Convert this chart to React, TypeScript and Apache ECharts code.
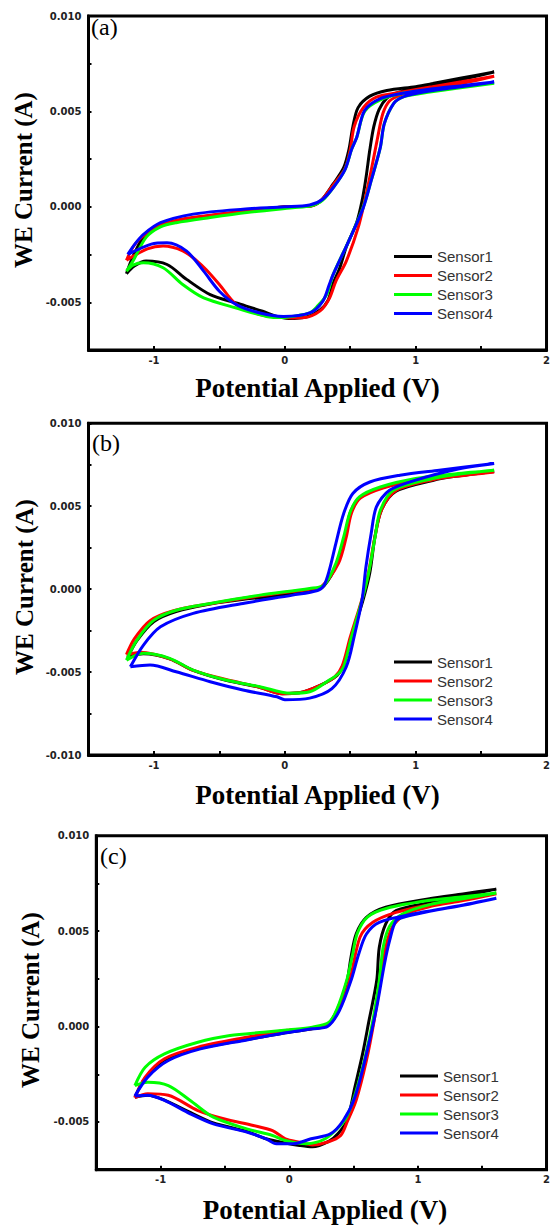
import React, { useEffect, useRef } from 'react';
import * as echarts from 'echarts';

// ---------- DATA (potential V, current mA; loops: forward scan then reverse scan) ----------
const SENSORS = ['Sensor1', 'Sensor2', 'Sensor3', 'Sensor4'];
const COLORS = ['#000000', '#ff0000', '#00ff00', '#0000ff'];
const PANEL_LABELS = ['(a)', '(b)', '(c)'];
const X_TITLE = 'Potential Applied (V)';
const Y_TITLE = 'WE Current (A)';
const X_TICK_LABELS = [-1, 0, 1, 2];
const Y_TICK_LABELS = [-0.01, -0.005, 0, 0.005, 0.01];

// Panel (a)
const A_S1 = [
  [-1.21, -3.5], [-1.16, -2.6], [-1.08, -1.6], [-0.95, -1.0], [-0.8, -0.7], [-0.5, -0.4], [-0.25, -0.18], [0, 0],
  [0.2, 0.05], [0.28, 0.35], [0.37, 1.2], [0.45, 2.05], [0.49, 3.0], [0.52, 4.2], [0.56, 5.2], [0.65, 5.8],
  [0.78, 6.1], [1.0, 6.3], [1.13, 6.46], [1.35, 6.75], [1.6, 7.07],
  [1.3, 6.6], [1.0, 6.2], [0.85, 5.95], [0.78, 5.7], [0.72, 5.1], [0.68, 4.2], [0.65, 3.0], [0.62, 1.5],
  [0.59, 0.3], [0.55, -0.8], [0.47, -2.1], [0.42, -3.2], [0.37, -4.0], [0.33, -4.9], [0.27, -5.4], [0.17, -5.76],
  [0.03, -5.85], [-0.08, -5.7], [-0.17, -5.47], [-0.37, -5.04], [-0.57, -4.6], [-0.75, -3.8], [-0.9, -3.02],
  [-1.06, -2.84], [-1.15, -3.1], [-1.21, -3.5],
];
const A_S2 = [
  [-1.21, -2.8], [-1.15, -2.0], [-1.06, -1.4], [-0.95, -0.95], [-0.75, -0.6], [-0.5, -0.38], [-0.25, -0.18], [0, 0],
  [0.2, 0.05], [0.28, 0.35], [0.37, 1.15], [0.46, 2.0], [0.5, 3.0], [0.53, 4.2], [0.6, 5.2], [0.7, 5.75],
  [0.88, 6.0], [1.13, 6.3], [1.35, 6.55], [1.6, 6.84],
  [1.3, 6.4], [1.0, 6.1], [0.88, 5.85], [0.8, 5.55], [0.75, 4.9], [0.71, 3.65], [0.66, 1.9], [0.61, 0.3],
  [0.56, -1.1], [0.47, -2.84], [0.39, -3.9], [0.34, -4.8], [0.27, -5.45], [0.15, -5.8], [0.06, -5.82],
  [-0.1, -5.75], [-0.19, -5.65], [-0.37, -5.12], [-0.5, -4.07], [-0.6, -3.3], [-0.67, -2.84], [-0.78, -2.3],
  [-0.93, -2.05], [-1.05, -2.2], [-1.21, -2.8],
];
const A_S3 = [
  [-1.21, -3.37], [-1.16, -2.84], [-1.06, -1.6], [-0.95, -1.05], [-0.83, -0.83], [-0.57, -0.56], [-0.29, -0.3],
  [0.06, -0.05], [0.2, 0.05], [0.29, 0.35], [0.38, 1.1], [0.46, 1.95], [0.51, 3.0], [0.55, 3.65], [0.61, 5.0],
  [0.73, 5.6], [0.9, 5.95], [1.13, 6.15], [1.35, 6.3], [1.6, 6.47],
  [1.3, 6.2], [1.05, 5.95], [0.9, 5.75], [0.83, 5.4], [0.76, 4.35], [0.73, 3.12], [0.66, 1.37], [0.6, 0.0],
  [0.5, -1.62], [0.37, -3.54], [0.32, -4.6], [0.25, -5.2], [0.19, -5.56], [0.05, -5.75], [-0.01, -5.8],
  [-0.14, -5.74], [-0.37, -5.3], [-0.62, -4.77], [-0.78, -4.07], [-0.93, -3.19], [-1.08, -2.93], [-1.16, -3.05],
  [-1.21, -3.37],
];
const A_S4 = [
  [-1.2, -2.49], [-1.14, -1.9], [-1.08, -1.44], [-0.95, -0.83], [-0.7, -0.38], [-0.32, -0.12], [0, 0], [0.19, 0.1],
  [0.29, 0.4], [0.38, 1.1], [0.46, 1.95], [0.51, 3.0], [0.55, 3.65], [0.61, 5.05], [0.73, 5.67], [0.9, 5.95],
  [1.13, 6.19], [1.35, 6.35], [1.6, 6.54],
  [1.3, 6.25], [1.05, 6.0], [0.9, 5.75], [0.83, 5.4], [0.76, 4.35], [0.73, 3.12], [0.66, 1.37], [0.6, -0.04],
  [0.5, -1.62], [0.37, -3.54], [0.34, -4.07], [0.29, -4.95], [0.19, -5.56], [-0.01, -5.74], [-0.19, -5.56],
  [-0.37, -5.12], [-0.5, -4.42], [-0.62, -3.37], [-0.75, -2.32], [-0.9, -1.88], [-1.02, -1.95], [-1.2, -2.49],
];

// Panel (b)
const B_S1 = [
  [-1.2, -4.1], [-1.13, -3.1], [-1.0, -1.95], [-0.83, -1.35], [-0.57, -0.9], [-0.3, -0.6], [-0.1, -0.45],
  [0.1, -0.2], [0.22, -0.08], [0.3, 0.2], [0.4, 1.55], [0.46, 3.15], [0.5, 4.6], [0.57, 5.5], [0.73, 6.1],
  [1.0, 6.55], [1.3, 6.85], [1.6, 7.1],
  [1.3, 6.8], [1.13, 6.55], [0.85, 5.9], [0.74, 4.8], [0.69, 3.2], [0.65, 1.0], [0.6, -0.6], [0.51, -2.9],
  [0.45, -4.5], [0.4, -5.2], [0.27, -5.8], [0.11, -6.25], [-0.02, -6.3], [-0.2, -5.9], [-0.45, -5.5],
  [-0.7, -4.9], [-0.88, -4.2], [-1.08, -3.9], [-1.2, -4.1],
];
const B_S2 = [
  [-1.21, -3.95], [-1.15, -3.0], [-1.03, -1.9], [-0.85, -1.3], [-0.57, -0.88], [-0.19, -0.4], [0.19, 0.0],
  [0.28, 0.15], [0.41, 1.55], [0.47, 3.15], [0.51, 4.6], [0.58, 5.5], [0.75, 6.1], [1.0, 6.55], [1.3, 6.85],
  [1.6, 7.07],
  [1.3, 6.8], [1.13, 6.6], [0.85, 5.95], [0.74, 4.8], [0.69, 3.2], [0.64, 1.0], [0.59, -0.6], [0.5, -2.9],
  [0.44, -4.6], [0.38, -5.3], [0.27, -5.8], [0.11, -6.25], [-0.02, -6.3], [-0.2, -5.9], [-0.45, -5.45],
  [-0.7, -4.9], [-0.88, -4.2], [-1.1, -3.8], [-1.21, -3.95],
];
const B_S3 = [
  [-1.21, -4.28], [-1.13, -3.07], [-1.0, -1.87], [-0.83, -1.27], [-0.57, -0.86], [-0.19, -0.36], [0.19, 0.04],
  [0.3, 0.25], [0.39, 1.55], [0.45, 3.15], [0.5, 4.66], [0.57, 5.56], [0.73, 6.16], [1.0, 6.67], [1.3, 6.95],
  [1.6, 7.17],
  [1.3, 6.9], [1.13, 6.67], [0.83, 5.96], [0.73, 4.76], [0.69, 3.15], [0.64, 0.95], [0.59, -0.66], [0.51, -2.87],
  [0.45, -4.68], [0.41, -5.1], [0.34, -5.48], [0.19, -6.19], [0.04, -6.28], [-0.19, -5.88], [-0.45, -5.48],
  [-0.7, -4.88], [-0.88, -4.17], [-1.08, -3.87], [-1.21, -4.28],
];
const B_S4 = [
  [-1.18, -4.68], [-1.08, -3.37], [-0.95, -2.27], [-0.7, -1.46], [-0.32, -0.86], [0.06, -0.36], [0.25, -0.08],
  [0.3, 0.24], [0.34, 1.14], [0.39, 2.75], [0.45, 4.56], [0.52, 5.77], [0.65, 6.46], [0.88, 6.87], [1.18, 7.17],
  [1.6, 7.57],
  [1.3, 7.2], [1.0, 6.57], [0.8, 5.96], [0.7, 4.96], [0.66, 3.35], [0.62, 1.34], [0.59, -0.66], [0.53, -2.87],
  [0.47, -4.68], [0.36, -6.0], [0.19, -6.57], [0.0, -6.67], [-0.06, -6.49], [-0.32, -6.08], [-0.57, -5.58],
  [-0.83, -4.98], [-1.03, -4.58], [-1.18, -4.68],
];

// Panel (c)
const C_S1 = [
  [-1.2, -3.7], [-1.12, -2.7], [-0.97, -1.75], [-0.71, -1.15], [-0.33, -0.68], [-0.05, -0.35], [0.18, -0.12],
  [0.29, 0.05], [0.37, 0.84], [0.45, 2.41], [0.48, 3.63], [0.52, 4.85], [0.6, 5.72], [0.75, 6.25], [1.08, 6.69],
  [1.35, 6.95], [1.61, 7.2],
  [1.35, 6.85], [1.1, 6.5], [0.83, 6.07], [0.75, 5.38], [0.7, 4.15], [0.68, 2.41], [0.62, 0.31], [0.57, -1.43],
  [0.51, -3.18], [0.45, -4.92], [0.38, -5.6], [0.31, -6.0], [0.18, -6.3], [0.08, -6.23], [-0.03, -6.1],
  [-0.18, -5.88], [-0.33, -5.5], [-0.59, -5.05], [-0.77, -4.5], [-0.97, -3.85], [-1.1, -3.6], [-1.2, -3.7],
];
const C_S2 = [
  [-1.2, -3.73], [-1.12, -2.65], [-0.97, -1.69], [-0.71, -1.08], [-0.33, -0.56], [-0.03, -0.21], [0.18, -0.1],
  [0.3, 0.05], [0.38, 0.8], [0.47, 2.41], [0.55, 4.68], [0.65, 5.46], [0.83, 5.98], [1.1, 6.4], [1.35, 6.65],
  [1.61, 6.96],
  [1.35, 6.6], [1.1, 6.3], [0.91, 5.9], [0.8, 5.2], [0.75, 4.15], [0.71, 2.41], [0.66, 0.31], [0.6, -1.78],
  [0.52, -3.87], [0.45, -5.0], [0.4, -5.7], [0.3, -6.05], [0.18, -6.2], [0.08, -6.06], [-0.03, -5.88],
  [-0.13, -5.45], [-0.28, -5.18], [-0.51, -4.83], [-0.71, -4.4], [-0.94, -3.6], [-1.1, -3.52], [-1.2, -3.73],
];
const C_S3 = [
  [-1.2, -3.09], [-1.12, -2.13], [-0.97, -1.43], [-0.71, -0.82], [-0.46, -0.47], [-0.2, -0.3], [0, -0.17],
  [0.18, -0.03], [0.31, 0.23], [0.37, 0.9], [0.45, 2.5], [0.49, 3.7], [0.53, 4.9], [0.61, 5.75], [0.76, 6.2],
  [1.08, 6.6], [1.35, 6.8], [1.61, 7.0],
  [1.35, 6.7], [1.1, 6.4], [0.88, 5.9], [0.78, 5.25], [0.73, 4.15], [0.7, 2.41], [0.65, 0.31], [0.59, -1.6],
  [0.51, -3.6], [0.45, -4.7], [0.41, -5.1], [0.28, -5.88], [0.13, -6.14], [-0.03, -5.97], [-0.13, -5.71],
  [-0.33, -5.36], [-0.59, -4.75], [-0.77, -3.87], [-0.94, -3.09], [-1.1, -2.92], [-1.2, -3.09],
];
const C_S4 = [
  [-1.2, -3.64], [-1.1, -2.65], [-0.94, -1.78], [-0.69, -1.17], [-0.33, -0.7], [-0.05, -0.35], [0.18, -0.12],
  [0.3, 0.02], [0.39, 0.84], [0.48, 2.41], [0.54, 3.8], [0.6, 4.85], [0.7, 5.46], [0.96, 5.9], [1.3, 6.3],
  [1.61, 6.72],
  [1.35, 6.35], [1.1, 6.05], [0.9, 5.75], [0.83, 5.55], [0.78, 4.5], [0.74, 3.28], [0.68, 1.01], [0.6, -1.43],
  [0.51, -3.7], [0.42, -4.92], [0.32, -5.62], [0.17, -5.88], [0.03, -6.14], [-0.1, -6.14], [-0.18, -5.88],
  [-0.33, -5.53], [-0.59, -5.1], [-0.77, -4.57], [-0.97, -3.87], [-1.1, -3.6], [-1.2, -3.64],
];

const PANEL_DATA = [
  [A_S1, A_S2, A_S3, A_S4],
  [B_S1, B_S2, B_S3, B_S4],
  [C_S1, C_S2, C_S3, C_S4],
];
const Y_RANGES = [[-0.0075, 0.01], [-0.01, 0.01], [-0.0075, 0.01]];
const X_RANGE = [-1.5, 2];

// ---------- LAYOUT ----------
const GRIDS = [
  { left: 88.5, top: 16, width: 458.5, height: 334 },
  { left: 88.5, top: 423.3, width: 458.5, height: 331.7 },
  { left: 96.3, top: 835.7, width: 457.2, height: 334 },
];
const PANEL_LABEL_POS = [[91, 15], [92, 431], [100, 844]];
const Y_TITLE_POS = [[23, 180], [24, 587], [30, 1000]];
const X_TITLE_POS = [[317.5, 388], [317.5, 795], [325, 1210]];
const LEGEND_POS = [[394, 248.5], [394, 654], [400, 1068]];

const TICK_FONT = { fontFamily: 'DejaVu Sans', fontWeight: 'bold' as const, fontSize: 10, color: '#222' };

function near(list: number[], v: number, tol: number) {
  return list.some((t) => Math.abs(t - v) < tol);
}

export default function App() {
  const ref = useRef<HTMLDivElement>(null);
  useEffect(() => {
    if (!ref.current) return;
    const chart = echarts.init(ref.current, undefined, { renderer: 'svg' });

    const xAxis = GRIDS.map((_, i) => ({
      type: 'value',
      gridIndex: i,
      min: X_RANGE[0],
      max: X_RANGE[1],
      interval: 0.5,
      axisLine: { show: true, onZero: false, lineStyle: { color: '#000', width: 3 } },
      axisTick: { show: true, inside: true, length: 4, lineStyle: { color: '#000', width: 2 } },
      axisLabel: {
        ...TICK_FONT,
        margin: 5,
        formatter: (v: number) => (near(X_TICK_LABELS, v, 1e-6) ? String(Math.round(v)) : ''),
      },
      splitLine: { show: false },
    }));
    const yAxis = GRIDS.map((_, i) => ({
      type: 'value',
      gridIndex: i,
      min: Y_RANGES[i][0],
      max: Y_RANGES[i][1],
      interval: 0.0025,
      axisLine: { show: true, onZero: false, lineStyle: { color: '#000', width: 3 } },
      axisTick: { show: true, inside: true, length: 3, lineStyle: { color: '#000', width: 2 } },
      axisLabel: {
        ...TICK_FONT,
        margin: 7,
        formatter: (v: number) => (near(Y_TICK_LABELS, v, 1e-7) ? Math.abs(v) < 1e-9 ? '0.000' : v.toFixed(3) : ''),
      },
      splitLine: { show: false },
    }));

    const series: any[] = [];
    PANEL_DATA.forEach((panel, p) => {
      panel.forEach((curve, s) => {
        series.push({
          type: 'line',
          name: SENSORS[s],
          xAxisIndex: p,
          yAxisIndex: p,
          data: curve.map(([v, ma]) => [v, ma / 1000]),
          showSymbol: false,
          smooth: 0.3,
          lineStyle: { color: COLORS[s], width: 3 },
          itemStyle: { color: COLORS[s] },
        });
      });
    });

    const legend = LEGEND_POS.map(([l, t]) => ({
      data: SENSORS,
      left: l,
      top: t,
      orient: 'vertical',
      icon: 'rect',
      itemWidth: 38,
      itemHeight: 3,
      itemGap: 3,
      padding: 0,
      selectedMode: false,
      textStyle: { fontFamily: 'Liberation Sans', fontSize: 15, color: '#333', lineHeight: 16 },
    }));

    const graphic: any[] = [];
    PANEL_LABELS.forEach((lab, i) => {
      graphic.push({
        type: 'text',
        left: PANEL_LABEL_POS[i][0],
        top: PANEL_LABEL_POS[i][1],
        style: { text: lab, font: '24px "Liberation Serif"', fill: '#000' },
      });
      graphic.push({
        type: 'text',
        x: Y_TITLE_POS[i][0],
        y: Y_TITLE_POS[i][1],
        rotation: Math.PI / 2,
        style: {
          text: Y_TITLE,
          font: 'bold 25px "Liberation Serif"',
          fill: '#000',
          align: 'center',
          verticalAlign: 'middle',
        },
      });
      graphic.push({
        type: 'text',
        x: X_TITLE_POS[i][0],
        y: X_TITLE_POS[i][1],
        style: {
          text: X_TITLE,
          font: 'bold 27px "Liberation Serif"',
          fill: '#000',
          align: 'center',
          verticalAlign: 'middle',
        },
      });
    });

    chart.setOption({
      animation: false,
      backgroundColor: '#fff',
      grid: GRIDS.map((g) => ({ ...g, show: true, borderColor: '#000', borderWidth: 3, backgroundColor: 'transparent' })),
      xAxis,
      yAxis,
      legend,
      series,
      graphic,
    });
    return () => chart.dispose();
  }, []);
  return (
    <div
      ref={ref}
      style={{ position: 'absolute', left: 0, top: 0, width: 553, height: 1225, background: '#fff' }}
    />
  );
}
